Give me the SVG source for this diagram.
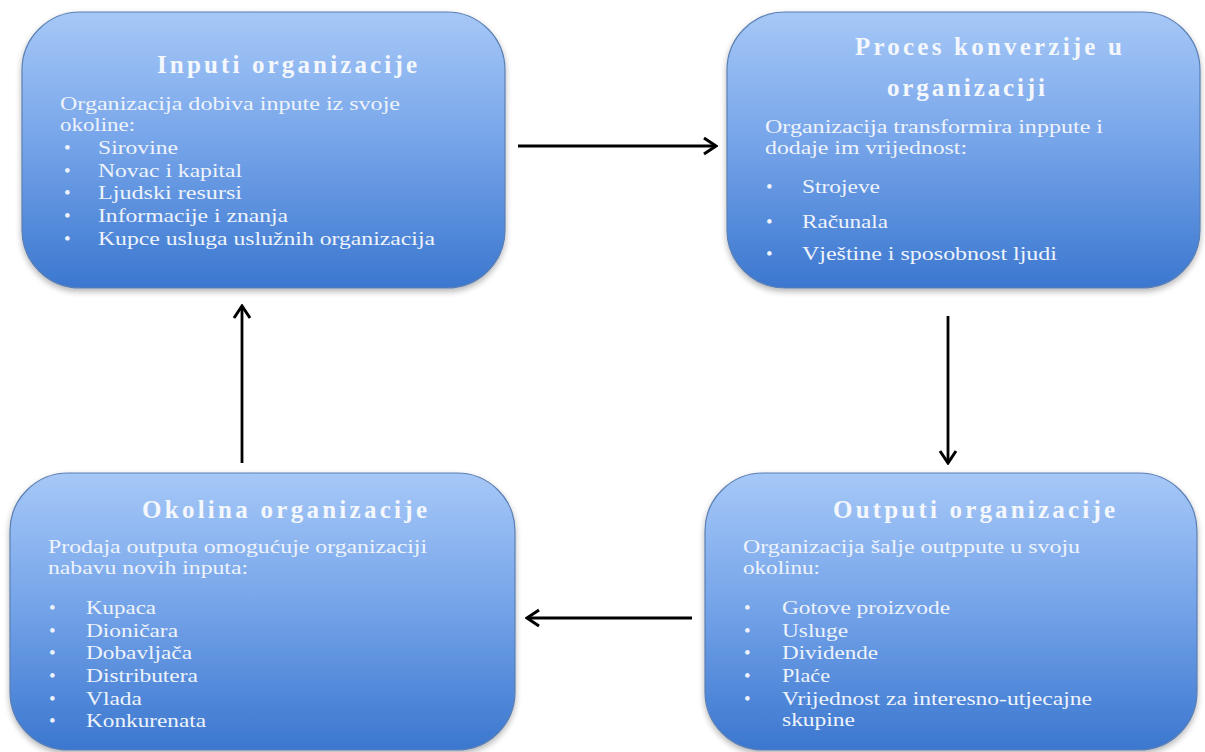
<svg xmlns="http://www.w3.org/2000/svg" width="1205" height="752" viewBox="0 0 1205 752">
<defs>
<linearGradient id="g" x1="0" y1="0" x2="0" y2="1">
<stop offset="0" stop-color="#a6c8f7"/>
<stop offset="0.45" stop-color="#78a6ea"/>
<stop offset="1" stop-color="#3b77cf"/>
</linearGradient>
<filter id="sh" x="-5%" y="-5%" width="110%" height="115%">
<feGaussianBlur in="SourceAlpha" stdDeviation="3"/>
<feOffset dx="0" dy="3" result="b"/>
<feComponentTransfer><feFuncA type="linear" slope="0.3"/></feComponentTransfer>
<feMerge><feMergeNode/><feMergeNode in="SourceGraphic"/></feMerge>
</filter>
<marker id="ah" viewBox="0 0 20 20" refX="18" refY="10" markerWidth="20" markerHeight="20" markerUnits="userSpaceOnUse" orient="auto">
<path d="M6,2 L18,10 L6,18" fill="none" stroke="#000" stroke-width="3"/>
</marker>
</defs>
<style>
.box{fill:url(#g);stroke:#5b7fb3;stroke-width:1.2;filter:url(#sh)}
.t{font-family:"Liberation Serif",serif;font-weight:bold;font-size:25px;fill:#f4f7fc}
.b{font-family:"Liberation Serif",serif;font-size:19px;fill:#eef3fb}
.c{stroke:#000;stroke-width:2.8;fill:none;marker-end:url(#ah)}
</style>
<rect width="1205" height="752" fill="#fff"/>
<g id="connectors">
<line class="c" x1="518" y1="146" x2="716" y2="146"/>
<line class="c" x1="948" y1="316" x2="948" y2="463"/>
<line class="c" x1="692" y1="618" x2="527" y2="618"/>
<line class="c" x1="242" y1="463" x2="242" y2="306"/>
</g>
<g id="inputi">
<rect class="box" x="22" y="12" width="483" height="276" rx="58" ry="58"/>
<text class="t" x="157" y="73" textLength="260" lengthAdjust="spacing">Inputi organizacije</text>
<text class="b" x="60" y="110" textLength="340" lengthAdjust="spacingAndGlyphs">Organizacija dobiva inpute iz svoje</text>
<text class="b" x="60" y="131" textLength="75" lengthAdjust="spacingAndGlyphs">okoline:</text>
<text class="b" x="64" y="154">•</text><text class="b" x="98" y="154" textLength="80" lengthAdjust="spacingAndGlyphs">Sirovine</text>
<text class="b" x="64" y="177">•</text><text class="b" x="98" y="177" textLength="144" lengthAdjust="spacingAndGlyphs">Novac i kapital</text>
<text class="b" x="64" y="199">•</text><text class="b" x="98" y="199" textLength="144" lengthAdjust="spacingAndGlyphs">Ljudski resursi</text>
<text class="b" x="64" y="222">•</text><text class="b" x="98" y="222" textLength="190" lengthAdjust="spacingAndGlyphs">Informacije i znanja</text>
<text class="b" x="64" y="245">•</text><text class="b" x="98" y="245" textLength="337" lengthAdjust="spacingAndGlyphs">Kupce usluga uslužnih organizacija</text>
</g>
<g id="proces">
<rect class="box" x="727" y="12" width="473" height="276" rx="58" ry="58"/>
<text class="t" x="855" y="55" textLength="267" lengthAdjust="spacing">Proces konverzije u</text>
<text class="t" x="887" y="96" textLength="158" lengthAdjust="spacing">organizaciji</text>
<text class="b" x="765" y="133" textLength="338" lengthAdjust="spacingAndGlyphs">Organizacija transformira inppute i</text>
<text class="b" x="765" y="154" textLength="202" lengthAdjust="spacingAndGlyphs">dodaje im vrijednost:</text>
<text class="b" x="766" y="193">•</text><text class="b" x="802" y="193" textLength="78" lengthAdjust="spacingAndGlyphs">Strojeve</text>
<text class="b" x="766" y="228">•</text><text class="b" x="802" y="228" textLength="86" lengthAdjust="spacingAndGlyphs">Računala</text>
<text class="b" x="766" y="260">•</text><text class="b" x="802" y="260" textLength="255" lengthAdjust="spacingAndGlyphs">Vještine i sposobnost ljudi</text>
</g>
<g id="okolina">
<rect class="box" x="10" y="473" width="505" height="277" rx="58" ry="58"/>
<text class="t" x="142" y="518" textLength="285" lengthAdjust="spacing">Okolina organizacije</text>
<text class="b" x="48" y="553" textLength="379" lengthAdjust="spacingAndGlyphs">Prodaja outputa omogućuje organizaciji</text>
<text class="b" x="48" y="574" textLength="200" lengthAdjust="spacingAndGlyphs">nabavu novih inputa:</text>
<text class="b" x="49" y="614">•</text><text class="b" x="86" y="614" textLength="70" lengthAdjust="spacingAndGlyphs">Kupaca</text>
<text class="b" x="49" y="637">•</text><text class="b" x="86" y="637" textLength="92" lengthAdjust="spacingAndGlyphs">Dioničara</text>
<text class="b" x="49" y="659">•</text><text class="b" x="86" y="659" textLength="106" lengthAdjust="spacingAndGlyphs">Dobavljača</text>
<text class="b" x="49" y="682">•</text><text class="b" x="86" y="682" textLength="112" lengthAdjust="spacingAndGlyphs">Distributera</text>
<text class="b" x="49" y="705">•</text><text class="b" x="86" y="705" textLength="56" lengthAdjust="spacingAndGlyphs">Vlada</text>
<text class="b" x="49" y="727">•</text><text class="b" x="86" y="727" textLength="120" lengthAdjust="spacingAndGlyphs">Konkurenata</text>
</g>
<g id="outputi">
<rect class="box" x="705" y="473" width="492" height="277" rx="58" ry="58"/>
<text class="t" x="833" y="518" textLength="282" lengthAdjust="spacing">Outputi organizacije</text>
<text class="b" x="743" y="553" textLength="337" lengthAdjust="spacingAndGlyphs">Organizacija šalje outppute u svoju</text>
<text class="b" x="743" y="574" textLength="77" lengthAdjust="spacingAndGlyphs">okolinu:</text>
<text class="b" x="744" y="614">•</text><text class="b" x="782" y="614" textLength="168" lengthAdjust="spacingAndGlyphs">Gotove proizvode</text>
<text class="b" x="744" y="637">•</text><text class="b" x="782" y="637" textLength="66" lengthAdjust="spacingAndGlyphs">Usluge</text>
<text class="b" x="744" y="659">•</text><text class="b" x="782" y="659" textLength="96" lengthAdjust="spacingAndGlyphs">Dividende</text>
<text class="b" x="744" y="682">•</text><text class="b" x="782" y="682" textLength="48" lengthAdjust="spacingAndGlyphs">Plaće</text>
<text class="b" x="744" y="705">•</text><text class="b" x="782" y="705" textLength="310" lengthAdjust="spacingAndGlyphs">Vrijednost za interesno-utjecajne</text>
<text class="b" x="782" y="726" textLength="73" lengthAdjust="spacingAndGlyphs">skupine</text>
</g>
</svg>
